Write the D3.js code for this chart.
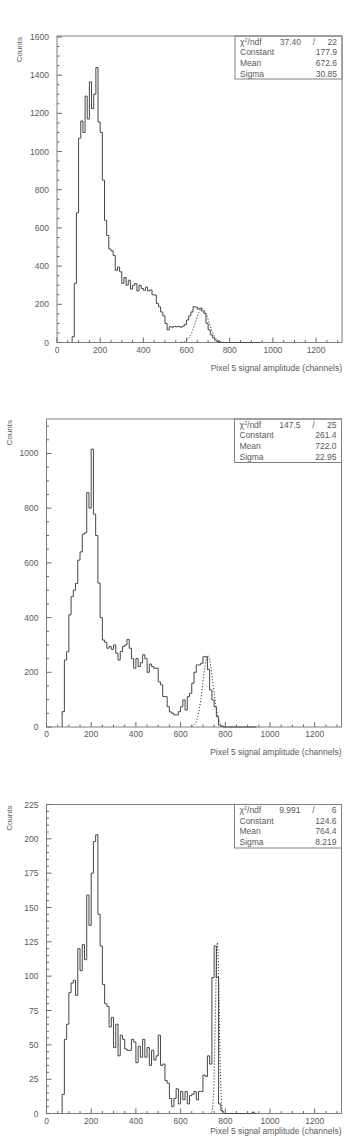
<!DOCTYPE html>
<html>
<head>
<meta charset="utf-8">
<script src="https://cdn.jsdelivr.net/npm/d3@7"></script>
<style>
  body { margin: 0; background: #fff; }
  svg { display: block; }
  text { font-family: "Liberation Sans", Arial, sans-serif; fill: #5a5a5a; }
  .frame { fill: none; stroke: #808080; stroke-width: 1; }
  .tick { stroke: #6a6a6a; stroke-width: 1; }
  .hist { fill: none; stroke: #474747; stroke-width: 1; }
  .fit { fill: none; stroke: #333; stroke-width: 1; stroke-dasharray: 1.2 1.8; }
</style>
</head>
<body>
<svg id="chart" width="350" height="1136"></svg>
<script>
// lower edge of each bin (channels), bin width 10
const binLo = [70, 80, 90, 100, 110, 120, 130, 140, 150, 160, 170, 180, 190, 200, 210, 220, 230, 240, 250, 260,
  270, 280, 290, 300, 310, 320, 330, 340, 350, 360, 370, 380, 390, 400, 410, 420, 430, 440, 450, 460,
  470, 480, 490, 500, 510, 520, 530, 540, 550, 560, 570, 580, 590, 600, 610, 620, 630, 640, 650, 660,
  670, 680, 690, 700, 710, 720, 730, 740, 750, 760, 770, 780, 790, 800, 810, 820, 830, 840, 850, 860,
  870, 880, 890, 900, 910, 920, 930];
const binWidth = 10;

const counts1 = [30, 310, 680, 1070, 1160, 1100, 1290, 1170, 1365, 1225, 1300, 1440, 1155, 1100, 850, 640, 560, 490, 480, 456,
  378, 395, 370, 310, 340, 300, 326, 280, 300, 309, 270, 300, 283, 274, 290, 270, 275, 250, 248, 205,
  187, 160, 140, 100, 66, 83, 80, 84, 82, 84, 80, 86, 95, 118, 140, 160, 187, 185, 175, 180,
  165, 153, 100, 66, 40, 25, 12, 5, 2, 0, 0, 0, 0, 0, 0, 0, 0, 0, 0, 0,
  0, 0, 0, 0, 0, 0, 0];

const counts2 = [56, 245, 275, 410, 477, 500, 525, 610, 640, 705, 710, 857, 800, 1016, 778, 700, 526, 400, 318, 310,
  288, 294, 284, 300, 270, 245, 276, 294, 300, 320, 288, 250, 215, 250, 221, 235, 264, 250, 200, 230,
  221, 215, 215, 165, 154, 111, 111, 74, 55, 50, 44, 44, 56, 74, 99, 62, 111, 123, 160, 200,
  227, 227, 233, 257, 257, 210, 135, 99, 74, 38, 7, 2, 0, 0, 0, 0, 0, 0, 0, 0,
  0, 0, 0, 0, 0, 0, 0];

const counts3 = [14, 54, 65, 88, 95, 97, 86, 120, 104, 123, 112, 159, 137, 175, 198, 203, 145, 122, 94, 80,
  78, 63, 70, 48, 65, 42, 57, 54, 47, 46, 46, 54, 52, 37, 49, 41, 54, 41, 48, 35,
  46, 39, 42, 57, 35, 36, 24, 22, 11, 5, 11, 18, 7, 16, 10, 16, 7, 13, 14, 16,
  10, 16, 16, 28, 27, 42, 36, 99, 122, 99, 7, 2, 0, 0, 0, 0, 0, 0, 0, 0,
  0, 0, 0, 0, 0, 1, 0];

// fit results printed in the stat boxes
const fitChi2 = ["37.40", "147.5", "9.991"];
const fitNdf = ["22", "25", "6"];
const fitConstant = [177.9, 261.4, 124.6];
const fitMean = [672.6, 722.0, 764.4];
const fitSigma = [30.85, 22.95, 8.219];
const fitLabels = [["177.9", "672.6", "30.85"], ["261.4", "722.0", "22.95"], ["124.6", "764.4", "8.219"]];

// axis settings
const xMax = 1320;
const xMajor = [0, 200, 400, 600, 800, 1000, 1200];
const yMax = [1605, 1126, 225];
const yMajorStep = [200, 200, 25];
const yMinorStep = [50, 50, 5];
const xTitle = "Pixel 5 signal amplitude (channels)";

const panels = [
  { left: 57, top: 36, right: 342, bottom: 342.5, titleDy: 28, counts: counts1 },
  { left: 46.5, top: 419, right: 341.5, bottom: 727, titleDy: 28, counts: counts2 },
  { left: 46.5, top: 804.5, right: 341.5, bottom: 1113.5, titleDy: 20.5, counts: counts3 }
];

const svg = d3.select('#chart');

panels.forEach((p, i) => {
  const g = svg.append('g').attr('class', 'panel');

  const x = d3.scaleLinear().domain([0, xMax]).range([p.left, p.right]);
  const y = d3.scaleLinear().domain([0, yMax[i]]).range([p.bottom, p.top]);

  // frame
  g.append('rect')
    .attr('class', 'frame')
    .attr('x', p.left)
    .attr('y', p.top)
    .attr('width', p.right - p.left)
    .attr('height', p.bottom - p.top);

  // x ticks (inward), major every 200, minor every 50
  const xMinor = d3.range(0, xMax + 1, 50);
  g.selectAll('.xtick')
    .data(xMinor)
    .enter()
    .append('line')
    .attr('class', 'tick')
    .attr('x1', d => x(d))
    .attr('x2', d => x(d))
    .attr('y1', p.bottom)
    .attr('y2', d => p.bottom - (d % 200 === 0 ? 5 : 2.5));

  g.selectAll('.xlabel')
    .data(xMajor)
    .enter()
    .append('text')
    .attr('x', d => x(d))
    .attr('y', p.bottom + 10)
    .attr('text-anchor', 'middle')
    .style('font-size', '8.5px')
    .text(d => d);

  // y ticks (inward)
  const yTicks = d3.range(0, yMax[i] + 0.01, yMinorStep[i]);
  g.selectAll('.ytick')
    .data(yTicks)
    .enter()
    .append('line')
    .attr('class', 'tick')
    .attr('x1', p.left)
    .attr('x2', d => p.left + (d % yMajorStep[i] === 0 ? 5 : 2.5))
    .attr('y1', d => y(d))
    .attr('y2', d => y(d));

  g.selectAll('.ylabel')
    .data(yTicks.filter(d => d % yMajorStep[i] === 0))
    .enter()
    .append('text')
    .attr('x', p.left - 8)
    .attr('y', d => y(d) + 3)
    .attr('text-anchor', 'end')
    .style('font-size', '8.5px')
    .text(d => d);

  // axis titles
  g.append('text')
    .attr('transform', `translate(${i === 0 ? 22 : 11.5},${p.top + 1}) rotate(-90)`)
    .attr('text-anchor', 'end')
    .style('font-size', '8px')
    .text('Counts');

  g.append('text')
    .attr('x', p.right)
    .attr('y', p.bottom + p.titleDy)
    .attr('text-anchor', 'end')
    .style('font-size', '8.5px')
    .text(xTitle);

  // histogram as a step outline
  const pts = [[binLo[0], 0]];
  binLo.forEach((lo, k) => {
    pts.push([lo, p.counts[k]]);
  });
  pts.push([binLo[binLo.length - 1] + binWidth, 0]);

  const step = d3.line()
    .x(d => x(d[0]))
    .y(d => y(d[1]))
    .curve(d3.curveStepAfter);

  g.append('path')
    .attr('class', 'hist')
    .attr('d', step(pts));

  // gaussian fit curve
  const gauss = v => fitConstant[i] * Math.exp(-0.5 * Math.pow((v - fitMean[i]) / fitSigma[i], 2));
  const fx = d3.range(fitMean[i] - 3.2 * fitSigma[i], fitMean[i] + 3.2 * fitSigma[i], fitSigma[i] / 20);
  g.append('path')
    .attr('class', 'fit')
    .attr('d', d3.line().x(v => x(v)).y(v => y(gauss(v)))(fx));

  // stat box
  const bx = p.right - 107;
  const bh = i === 0 ? 43 : 43.5;
  g.append('rect')
    .attr('class', 'frame')
    .attr('x', bx)
    .attr('y', p.top)
    .attr('width', p.right - bx)
    .attr('height', bh);

  const rowY = d => p.top + 8.5 + d * 10.7;
  const chi = g.append('text')
    .attr('x', bx + 5)
    .attr('y', rowY(0))
    .style('font-size', '8.5px');
  chi.append('tspan').text('χ');
  chi.append('tspan').attr('dy', -3).style('font-size', '5.5px').text('2');
  chi.append('tspan').attr('dy', 3).text('/ndf');

  g.append('text')
    .attr('x', bx + 66)
    .attr('y', rowY(0))
    .attr('text-anchor', 'end')
    .style('font-size', '8.5px')
    .text(fitChi2[i]);
  g.append('text')
    .attr('x', bx + 79)
    .attr('y', rowY(0))
    .attr('text-anchor', 'middle')
    .style('font-size', '8.5px')
    .text('/');
  g.append('text')
    .attr('x', p.right - 5)
    .attr('y', rowY(0))
    .attr('text-anchor', 'end')
    .style('font-size', '8.5px')
    .text(fitNdf[i]);

  ['Constant', 'Mean', 'Sigma'].forEach((name, k) => {
    g.append('text')
      .attr('x', bx + 5)
      .attr('y', rowY(k + 1))
      .style('font-size', '8.5px')
      .text(name);
    g.append('text')
      .attr('x', p.right - 5)
      .attr('y', rowY(k + 1))
      .attr('text-anchor', 'end')
      .style('font-size', '8.5px')
      .text(fitLabels[i][k]);
  });
});
</script>
</body>
</html>
